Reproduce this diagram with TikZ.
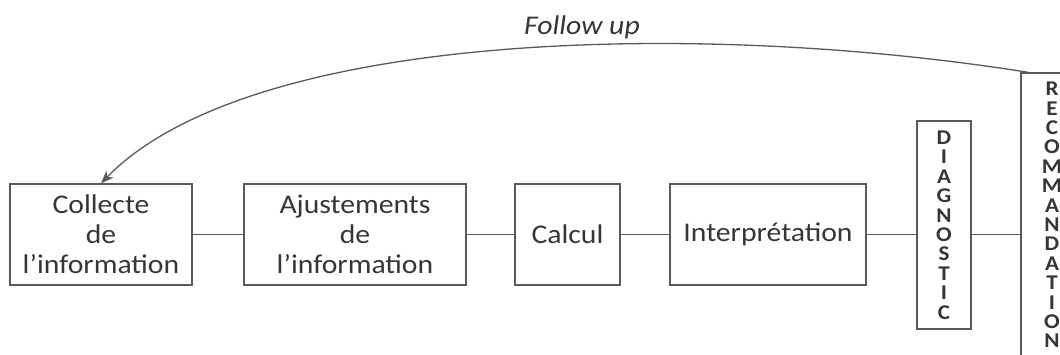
\documentclass[tikz,border=0pt]{standalone}
\usepackage{fontspec}
\setmainfont[FakeStretch=1.1]{Carlito}
\usetikzlibrary{arrows.meta}
\definecolor{ink}{HTML}{363636}
\definecolor{rule}{HTML}{5A5A5A}
\begin{document}
\begin{tikzpicture}[x=1pt,y=-1pt,
  stage/.style={draw=rule, line width=1.3pt, inner sep=0pt, minimum height=101pt,
    text=ink, align=center, font=\fontsize{27}{30}\selectfont},
  vstage/.style={draw=rule, line width=1.3pt, inner sep=0pt, text=ink, align=center,
    font=\fontsize{21}{19.4}\selectfont\bfseries},
  link/.style={draw=rule, line width=1.2pt},
  loopback/.style={draw=rule, line width=1.3pt, -{Stealth[length=13pt,width=10pt]}}]
  \useasboundingbox (0,0) rectangle (1060,354);
  \clip (0,0) rectangle (1060,354);

  % main chain of stages
  \node[stage, minimum width=182pt] (collect) at (101,234.5) {Collecte\\de\\l’information};
  \node[stage, minimum width=222pt] (adjust)  at (355,234.5) {Ajustements\\de\\l’information};
  \node[stage, minimum width=105pt] (calc)    at (567.5,234.5) {Calcul};
  \node[stage, minimum width=196pt] (interp)  at (768,234.5) {Interprétation};
  \node[vstage, minimum width=54pt, minimum height=208pt] (diag) at (944,225)
    {D\\I\\A\\G\\N\\O\\S\\T\\I\\C};
  \node[vstage, minimum width=62pt, minimum height=284pt] (reco) at (1052,215)
    {R\\E\\C\\O\\M\\M\\A\\N\\D\\A\\T\\I\\O\\N};

  % horizontal links between stages
  \draw[link] (collect.east) -- (collect.east -| adjust.west);
  \draw[link] (adjust.east) -- (adjust.east -| calc.west);
  \draw[link] (calc.east) -- (calc.east -| interp.west);
  \draw[link] (interp.east) -- (interp.east -| diag.west);
  \draw[link] (interp.east -| diag.east) -- (interp.east -| reco.west);

  % feedback loop
  \draw[loopback] ([xshift=8pt]reco.north west)
    .. controls (700,20) and (250,30) .. (collect.north);
  \node[text=ink, font=\fontsize{27}{30}\selectfont\itshape] (follow) at (582,27) {Follow up};
\end{tikzpicture}
\end{document}
